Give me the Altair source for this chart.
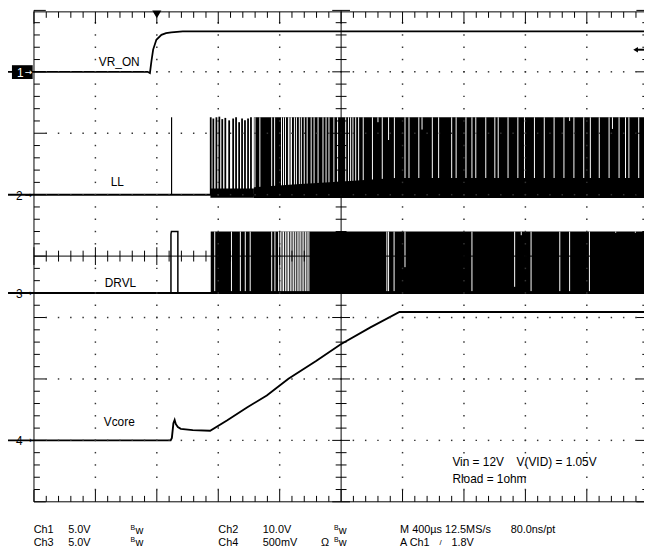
import altair as alt
import pandas as pd

FONT = "Liberation Sans, Arial, Helvetica, sans-serif"

# ---------------- values read from the screen ----------------
# time in µs (M 400 µs/div, trigger at t = 0), amplitudes in volts
CH_SCALE = {"VR_ON": 5.0, "LL": 10.0, "DRVL": 5.0, "Vcore": 0.5}   # V/div
CH_GROUND = {"VR_ON": 7.0, "LL": 5.0, "DRVL": 3.4, "Vcore": 1.0}  # ground marker (div from bottom)

vr_on_t = [-969, -60, -45, -35, -24, -3, 30, 60, 94, 169, 3173]
vr_on_v = [0.0, 0.0, -0.1, 0.88, 1.81, 2.61, 3.01, 3.15, 3.22, 3.3, 3.3]

vcore_t = [-969, 90, 98, 108, 116, 124, 137, 156, 234, 347, 459, 587, 716, 857,
           1037, 1198, 1391, 1580, 3173]
vcore_v = [0.0, 0.0, 0.02, 0.14, 0.166, 0.132, 0.108, 0.094, 0.084, 0.078, 0.164,
           0.268, 0.365, 0.502, 0.646, 0.783, 0.92, 1.045, 1.045]

ll_base_t = [-969, 632]
ll_base_v = [0.0, 0.0]
ll_spike_t = [96]
ll_spike_v = [12.6]
ll_burst_t = [351, 368, 388, 407, 426, 446, 471, 497, 516, 536, 555, 574, 594, 613]
ll_burst_v = [12.6, 12.4, 12.6, 12.7, 12.3, 12.5, 12.1, 12.4, 12.6, 11.8, 12.4, 12.1, 12.4, 12.6]
ll_idle_band = [349, 632, -0.5, 1.0]          # t0, t1, vlow, vhigh
ll_switch_band = [632, 3173, -0.55, 12.6]
ll_low_edge_t = [632, 909, 1230, 1552, 3173]
ll_low_edge_v = [1.2, 1.7, 2.2, 2.7, 2.7]
ll_gap_t = [639, 671, 748, 767, 812, 825, 838, 857, 867, 877, 896, 909, 928, 941, 960,
            979, 1005, 1024, 1050, 1082, 1102, 1121, 1153, 1177, 1230, 1248, 1262, 1277,
            1295, 1314, 1344, 1404, 1440, 1468, 1509, 1547, 1616, 1642, 1706, 1727, 1794,
            1835, 1920, 1949, 2013, 2052, 2077, 2142, 2201, 2223, 2287, 2351, 2394, 2459,
            2523, 2587, 2651, 2688, 2716, 2780, 2823, 2881, 2945, 2967, 3010, 3052, 3074, 3138]
ll_gap_low = {1440: 11.8, 1509: 8.9, 1727: 10.6, 2688: 12.0, 2967: 10.7}

drvl_pulse_t = [92, 92, 95, 137, 137]
drvl_pulse_v = [0.0, 4.8, 5.0, 5.0, 0.0]
drvl_switch_band = [351, 3173, 0.0, 5.0]
drvl_gap_t = [377, 486, 544, 576, 608, 748, 769, 793, 804, 815, 825, 837, 848, 857, 869,
              880, 891, 902, 914, 925, 934, 946, 957, 969, 979, 990, 1498, 1509, 1545,
              1616, 2052, 2330, 2373, 2437, 2624, 2688, 2817, 2988, 3116]
drvl_gap_low = {1616: 2.1, 2330: 0.5, 2373: 4.7, 2988: 4.9, 3116: 4.9}

# ---------------- screen geometry ----------------
PX_DIV = 62.2
X0, Y0 = 34.3, 7.0


def tp(px):
    return (px - X0) / PX_DIV * 400.0 - 800.0


def dp(py):
    return 8.0 - (py - Y0) / PX_DIV


def td(dx):
    return dx * 400.0 - 800.0


def dv(ch, v):
    return CH_GROUND[ch] + v / CH_SCALE[ch]


xs = alt.Scale(domain=[tp(8), tp(652)], nice=False, zero=False)
ys = alt.Scale(domain=[dp(552), dp(8)], nice=False, zero=False)
XE = lambda: alt.X("t:Q", scale=xs, axis=None)
YE = lambda: alt.Y("d:Q", scale=ys, axis=None)


def enc_pt(c):
    return c.encode(x=XE(), y=YE())


def enc_seg(c):
    return c.encode(x=XE(), x2="t2:Q", y=YE(), y2="d2:Q")


def line(ch, ts, vs, width=1.6):
    df = pd.DataFrame({"t": ts, "d": [dv(ch, v) for v in vs], "i": range(len(ts))})
    return alt.Chart(df).mark_line(color="black", strokeWidth=width).encode(
        x=XE(), y=YE(), order="i:Q")


def rules(rows, **kw):
    df = pd.DataFrame(rows, columns=["t", "t2", "d", "d2"])
    return enc_seg(alt.Chart(df).mark_rule(**kw))


def rects(rows, **kw):
    df = pd.DataFrame(rows, columns=["t", "t2", "d", "d2"])
    return enc_seg(alt.Chart(df).mark_rect(**kw))


layers = []

# ---- LL (Ch2) ----
layers.append(line("LL", ll_base_t, ll_base_v, 2))
layers.append(rules([(t, t, dv("LL", 0), dv("LL", v)) for t, v in zip(ll_spike_t, ll_spike_v)],
                    color="black", strokeWidth=1.2))
layers.append(rules([(t, t, dv("LL", 0), dv("LL", v)) for t, v in zip(ll_burst_t, ll_burst_v)],
                    color="black", strokeWidth=1.8))
b = ll_idle_band
layers.append(rects([(b[0], b[1], dv("LL", b[2]), dv("LL", b[3]))], color="black"))
b = ll_switch_band
layers.append(rects([(b[0], b[1], dv("LL", b[2]), dv("LL", b[3]))], color="black"))
layers.append(rules([(t, t, dv("LL", ll_gap_low.get(t, 0.0)), dv("LL", 12.6)) for t in ll_gap_t],
                    color="white", strokeWidth=1))
band_df = pd.DataFrame({"t": ll_low_edge_t, "d": [dv("LL", v) for v in ll_low_edge_v],
                        "d2": [dv("LL", -0.55)] * len(ll_low_edge_t)})
layers.append(alt.Chart(band_df).mark_area(color="black", opacity=1).encode(
    x=XE(), y=YE(), y2="d2:Q"))

# ---- DRVL (Ch3) ----
layers.append(line("DRVL", drvl_pulse_t, drvl_pulse_v, 1.5))
b = drvl_switch_band
layers.append(rects([(b[0], b[1], dv("DRVL", b[2]), dv("DRVL", b[3]))], color="black"))
layers.append(rules([(t, t, dv("DRVL", drvl_gap_low.get(t, 0.15)), dv("DRVL", 5.0)) for t in drvl_gap_t],
                    color="white", strokeWidth=1))
layers.append(line("DRVL", [-969, 3173], [0.0, 0.0], 2))

# ---- VR_ON (Ch1) and Vcore (Ch4) ----
layers.append(line("VR_ON", vr_on_t, vr_on_v, 1.8))
layers.append(line("Vcore", vcore_t, vcore_v, 1.9))

# ---------------- graticule ----------------
dots = []
for dx in [1, 2, 3, 4, 6, 7, 8, 9]:
    for k in range(1, 40):
        dots.append((td(dx), k * 0.2))
for dy in [1, 2, 3, 5, 6, 7]:
    for k in range(1, 50):
        dots.append((td(k * 0.2), dy))
dots_df = pd.DataFrame(dots, columns=["t", "d"])
layers.append(enc_pt(alt.Chart(dots_df).mark_square(size=2.2, color="#333", opacity=1)))

frame = [
    (td(0), td(0), 0, 8), (td(10), td(10), 0, 8),
    (td(0), td(10), dp(8.5), dp(8.5)), (td(0), td(10), 0, 0),
    (td(5), td(5), 0, 8), (td(0), td(10), 4, 4),
]
ticks = []
px = 1.0 / PX_DIV
for k in range(0, 51):
    x = td(k * 0.2)
    L = (12 if k % 5 == 0 else 6) * px
    ticks.append((x, x, dp(8.5), dp(8.5) - L))
    ticks.append((x, x, 0, L))
    h = (9 if k % 5 == 0 else 5.5) * px
    ticks.append((x, x, 4 - h, 4 + h))
for k in range(0, 41):
    y = k * 0.2
    L = (12 if k % 5 == 0 else 6) * 400 * px
    ticks.append((td(0), td(0) + L, y, y))
    ticks.append((td(10) - L, td(10), y, y))
    h = (9 if k % 5 == 0 else 5.5) * 400 * px
    ticks.append((td(5) - h, td(5) + h, y, y))
layers.append(rules(frame + ticks, color="black", strokeWidth=1))

# trigger position marker (top) and trigger level marker (right)
trig_df = pd.DataFrame({"t": [0.0], "d": [dp(11)]})
layers.append(enc_pt(alt.Chart(trig_df).mark_point(shape="triangle-down", size=85, filled=True,
                                                   color="black", opacity=1)))
lvl = dv("VR_ON", 1.8)
layers.append(rules([(tp(645), tp(653), lvl, lvl)], color="black", strokeWidth=2))
lvl_df = pd.DataFrame({"t": [tp(643.5)], "d": [lvl]})
layers.append(enc_pt(alt.Chart(lvl_df).mark_point(shape="triangle-left", size=30, filled=True,
                                                  color="black", opacity=1)))

# channel ground markers
layers.append(rects([(tp(12), tp(33), dp(62.5), dp(76.5))], color="black"))
mk_df = pd.DataFrame({
    "t": [tp(17), tp(16), tp(16), tp(16)],
    "d": [dv("VR_ON", 0), dv("LL", 0), dv("DRVL", 0), dv("Vcore", 0)],
    "s": ["1", "2", "3", "4"],
    "c": ["white", "black", "black", "black"],
})
layers.append(alt.Chart(mk_df).mark_text(align="left", baseline="middle", font=FONT, fontSize=12,
                                         dy=1).encode(
    x=XE(), y=YE(), text="s:N", color=alt.Color("c:N", scale=None)))
arr_df = pd.DataFrame({
    "t": [tp(25)] * 4,
    "d": [dv("VR_ON", 0), dv("LL", 0), dv("DRVL", 0), dv("Vcore", 0)],
    "c": ["white", "black", "black", "black"],
})
layers.append(alt.Chart(arr_df).mark_text(align="left", baseline="middle", font="DejaVu Sans",
                                          fontSize=9, text="→").encode(
    x=XE(), y=YE(), color=alt.Color("c:N", scale=None)))

# trace labels, annotations, status lines
R1, R2 = 533.5, 546
labels = [
    ("VR_ON", 100, 59.5, 12), ("LL", 112, 180.5, 12), ("DRVL", 106, 283, 12), ("Vcore", 105, 424, 12),
    ("Vin = 12V", 458, 464, 12), ("V(VID) = 1.05V", 523, 464, 12), ("Rload = 1ohm", 458, 481.5, 12),
    ("Ch1", 34, R1, 11), ("5.0V", 69, R1, 11), ("Ch2", 221, R1, 11), ("10.0V", 266, R1, 11),
    ("M 400µs 12.5MS/s", 405, R1, 11), ("80.0ns/pt", 517, R1, 11),
    ("Ch3", 34, R2, 11), ("5.0V", 69, R2, 11), ("Ch4", 221, R2, 11), ("500mV", 266, R2, 11),
    ("Ω", 325, R2, 11), ("A  Ch1", 405, R2, 11), ("1.8V", 457, R2, 11),
    ("w", 137, R1 + 0.5, 11), ("w", 137, R2 + 0.5, 11), ("w", 343, R1 + 0.5, 11), ("w", 343, R2 + 0.5, 11),
    ("B", 132, R1 - 2.5, 7), ("B", 132, R2 - 2.5, 7), ("B", 338, R1 - 2.5, 7), ("B", 338, R2 - 2.5, 7),
    ("/", 445, R2 + 0.5, 8),
]
lab_df = pd.DataFrame([(tp(x), dp(y), s, fs) for s, x, y, fs in labels], columns=["t", "d", "s", "fs"])
for fs in sorted(lab_df["fs"].unique()):
    sub = lab_df[lab_df["fs"] == fs]
    layers.append(alt.Chart(sub).mark_text(align="left", baseline="middle", font=FONT,
                                           fontSize=int(fs), color="black").encode(
        x=XE(), y=YE(), text="s:N"))

chart = alt.layer(*layers).properties(
    width=644, height=544, padding=0, autosize=alt.AutoSizeParams(type="none"),
    background="white",
).configure_view(stroke=None)

chart.save("out.html", embed_options={"renderer": "svg", "actions": False})
